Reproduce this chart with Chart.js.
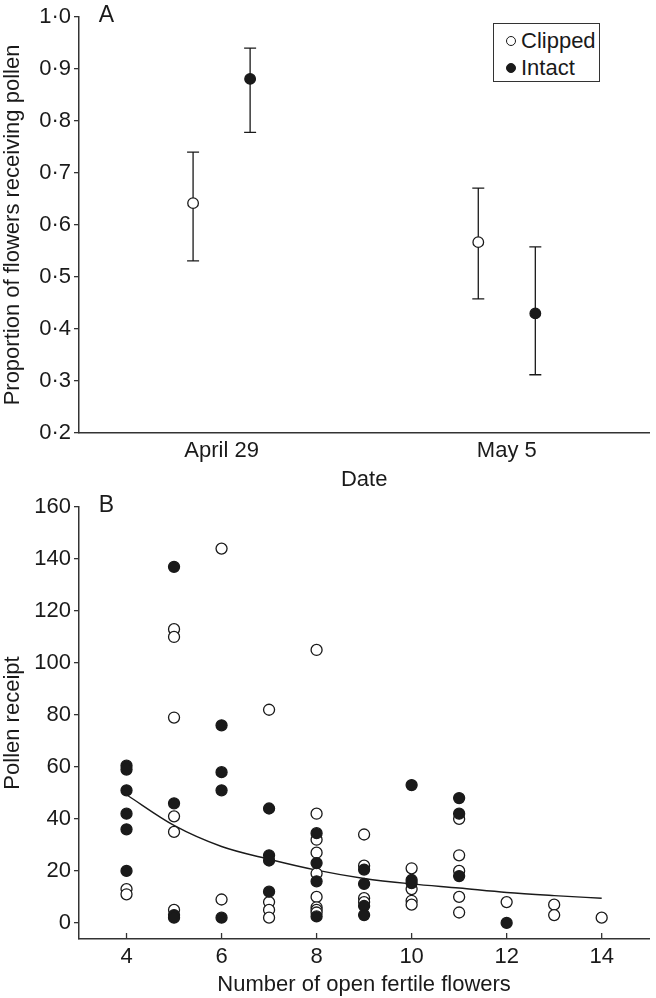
<!DOCTYPE html>
<html lang="en">
<head>
<meta charset="UTF-8">
<title>Pollen receipt in clipped and intact flowers</title>
<script src="https://cdn.jsdelivr.net/npm/chart.js"></script>
<style>
  body { margin: 0; background: #fff; font-family: "Liberation Sans", Arial, sans-serif; color: #1a1a1a; }
  #wrap { position: relative; width: 656px; height: 998px; }
  #chartA { position: absolute; left: 0; top: 0; }
  #chartB { position: absolute; left: 0; top: 470px; }
  #legend {
    position: absolute; left: 493px; top: 23px; width: 105px; height: 57px;
    border: 1.5px solid #333; background: #fff; font-size: 22px;
  }
  #legend .row { position: absolute; left: 0; height: 26px; line-height: 26px; white-space: nowrap; }
  #legend .dot {
    position: absolute; left: 12px; top: 8px; width: 8px; height: 8px;
    border: 1.3px solid #1a1a1a; border-radius: 50%;
  }
  #legend .lbl { position: absolute; left: 27px; top: 0; }
</style>
</head>
<body>
<div id="wrap">
  <canvas id="chartA" width="656" height="500"></canvas>
  <canvas id="chartB" width="656" height="528"></canvas>
  <div id="legend">
    <div class="row" style="top:4px"><span class="dot" style="background:#fff"></span><span class="lbl">Clipped</span></div>
    <div class="row" style="top:31px"><span class="dot" style="background:#1a1a1a"></span><span class="lbl">Intact</span></div>
  </div>
</div>

<script>
// panel A: proportion of flowers receiving pollen (mean with bars)
const dates = ['April 29', 'May 5'];
const clippedMean = [0.642, 0.567];
const clippedLow = [0.531, 0.458];
const clippedHigh = [0.740, 0.671];
const intactMean = [0.881, 0.430];
const intactLow = [0.778, 0.312];
const intactHigh = [0.940, 0.558];
const ticksA = [0.2, 0.3, 0.4, 0.5, 0.6, 0.7, 0.8, 0.9, 1.0];

// panel B: pollen receipt vs number of open fertile flowers
const clippedFlowers = [4, 4, 5, 5, 5, 5, 5, 5, 6, 6, 7, 7, 7, 7, 8, 8, 8, 8, 8, 8, 8, 8, 8,
  9, 9, 9, 9, 10, 10, 10, 10, 11, 11, 11, 11, 11, 12, 13, 13, 14];
const clippedPollen = [13, 11, 113, 110, 79, 41, 35, 5, 144, 9, 82, 8, 5, 2, 105, 42, 32, 27, 19, 10, 6, 5, 4,
  34, 22, 9.5, 8, 21, 13, 8.5, 7, 40, 26, 20, 10, 4, 8, 7, 3, 2];
const intactFlowers = [4, 4, 4, 4, 4, 4, 5, 5, 5, 5, 6, 6, 6, 6, 7, 7, 7, 7, 8, 8, 8, 8,
  9, 9, 9, 9, 10, 10, 10, 11, 11, 11, 12];
const intactPollen = [60.5, 59, 51, 42, 36, 20, 137, 46, 3, 2, 76, 58, 51, 2, 44, 26, 24, 12, 34.5, 23, 16, 2.5,
  20.5, 15, 6.5, 3, 53, 16.5, 15.3, 48, 42, 18, 0];
// fitted curve
const fitFlowers = [4, 5, 6, 7, 8, 9, 10, 11, 12, 13, 14];
const fitPollen = [49.3, 37.5, 29.4, 24.5, 20.3, 17.1, 15.0, 13.4, 11.7, 10.5, 9.5];
const ticksBx = [4, 6, 8, 10, 12, 14];
const ticksBy = [0, 20, 40, 60, 80, 100, 120, 140, 160];

const ink = '#1a1a1a';
const axisInk = '#333';
const font = { family: '"Liberation Sans", Arial, sans-serif', size: 22 };
const dodge = 0.1;  // side-by-side shift of the two treatments in panel A

// error bars for panel A
const errorBars = {
  id: 'errorBars',
  beforeDatasetsDraw(chart) {
    const { ctx, scales: { x, y } } = chart;
    const groups = [
      { low: clippedLow, high: clippedHigh, shift: -dodge },
      { low: intactLow, high: intactHigh, shift: dodge }
    ];
    ctx.save();
    ctx.strokeStyle = ink;
    ctx.lineWidth = 1.3;
    groups.forEach(g => {
      g.low.forEach((lo, i) => {
        const px = x.getPixelForValue(i + 0.5 + g.shift);
        const top = y.getPixelForValue(g.high[i]);
        const bot = y.getPixelForValue(lo);
        ctx.beginPath();
        ctx.moveTo(px, top); ctx.lineTo(px, bot);
        ctx.moveTo(px - 6, top); ctx.lineTo(px + 6, top);
        ctx.moveTo(px - 6, bot); ctx.lineTo(px + 6, bot);
        ctx.stroke();
      });
    });
    ctx.restore();
  }
};

// "A" / "B" panel letters
const panelLetter = {
  id: 'panelLetter',
  afterDraw(chart, args, opts) {
    const { ctx, chartArea } = chart;
    ctx.save();
    ctx.fillStyle = ink;
    ctx.font = '23px "Liberation Sans", Arial, sans-serif';
    ctx.textAlign = 'center';
    ctx.textBaseline = 'middle';
    ctx.fillText(opts.text, chartArea.left + 27.5, chartArea.top - 1);
    ctx.restore();
  }
};

// short tick marks pointing into the plot on the x axis of panel B
const innerTicks = {
  id: 'innerTicks',
  afterDraw(chart) {
    const { ctx, scales: { x }, chartArea } = chart;
    ctx.save();
    ctx.strokeStyle = axisInk;
    ctx.lineWidth = 1.3;
    x.ticks.forEach(t => {
      const px = x.getPixelForValue(t.value);
      ctx.beginPath();
      ctx.moveTo(px, chartArea.bottom);
      ctx.lineTo(px, chartArea.bottom - 6);
      ctx.stroke();
    });
    ctx.restore();
  }
};

function yAxis(min, max, tickList, title, fmt) {
  return {
    type: 'linear', min: min, max: max,
    afterBuildTicks: s => { s.ticks = tickList.map(v => ({ value: v })); },
    afterFit: s => { s.width = 79; },
    grid: { drawOnChartArea: false, drawTicks: true, tickLength: 5, color: axisInk, lineWidth: 1.3 },
    border: { display: true, color: axisInk, width: 1.5 },
    ticks: { color: ink, font: font, padding: 3, callback: fmt },
    title: { display: true, text: title, color: ink, font: font, padding: { top: 0, bottom: 0 } }
  };
}

new Chart(document.getElementById('chartA'), {
  type: 'scatter',
  data: {
    datasets: [
      {
        label: 'Intact',
        data: intactMean.map((v, i) => ({ x: i + 0.5 + dodge, y: v })),
        backgroundColor: ink, borderColor: ink, borderWidth: 1.3, pointRadius: 5.3
      },
      {
        label: 'Clipped',
        data: clippedMean.map((v, i) => ({ x: i + 0.5 - dodge, y: v })),
        backgroundColor: '#fff', borderColor: ink, borderWidth: 1.3, pointRadius: 5.3
      }
    ]
  },
  options: {
    responsive: false,
    animation: false,
    layout: { padding: { top: 17, right: 0, bottom: 0, left: 0 } },
    plugins: { legend: { display: false }, tooltip: { enabled: false }, panelLetter: { text: 'A' } },
    scales: {
      x: {
        type: 'linear', min: 0, max: 2,
        afterBuildTicks: s => { s.ticks = dates.map((d, i) => ({ value: i + 0.5 })); },
        afterFit: s => { s.height = 67; },
        grid: { display: false, drawTicks: false },
        border: { display: true, color: axisInk, width: 1.5 },
        ticks: { color: ink, font: font, padding: 5, callback: v => dates[Math.round(v - 0.5)] },
        title: { display: true, text: 'Date', color: ink, font: font, padding: { top: 0, bottom: 7 } }
      },
      y: yAxis(0.2, 1.0, ticksA, 'Proportion of flowers receiving pollen', v => v.toFixed(1).replace('.', '·'))
    }
  },
  plugins: [errorBars, panelLetter]
});

new Chart(document.getElementById('chartB'), {
  type: 'scatter',
  data: {
    datasets: [
      {
        label: 'Intact',
        data: intactFlowers.map((f, i) => ({ x: f, y: intactPollen[i] })),
        backgroundColor: ink, borderColor: ink, borderWidth: 1.3, pointRadius: 5.5
      },
      {
        label: 'Clipped',
        data: clippedFlowers.map((f, i) => ({ x: f, y: clippedPollen[i] })),
        backgroundColor: '#fff', borderColor: ink, borderWidth: 1.3, pointRadius: 5.5
      },
      {
        type: 'line',
        label: 'Fit',
        data: fitFlowers.map((f, i) => ({ x: f, y: fitPollen[i] })),
        borderColor: ink, borderWidth: 1.4, pointRadius: 0, fill: false,
        cubicInterpolationMode: 'monotone'
      }
    ]
  },
  options: {
    responsive: false,
    animation: false,
    layout: { padding: { top: 37, right: 0, bottom: 0, left: 0 } },
    plugins: { legend: { display: false }, tooltip: { enabled: false }, panelLetter: { text: 'B' } },
    scales: {
      x: {
        type: 'linear', min: 3, max: 15,
        afterBuildTicks: s => { s.ticks = ticksBx.map(v => ({ value: v })); },
        afterFit: s => { s.height = 59; },
        grid: { display: false, drawTicks: false },
        border: { display: true, color: axisInk, width: 1.5 },
        ticks: { color: ink, font: font, padding: 5 },
        title: { display: true, text: 'Number of open fertile flowers', color: ink, font: font, padding: { top: 0, bottom: 0 } }
      },
      y: yAxis(-6.2, 160, ticksBy, 'Pollen receipt', v => String(v))
    }
  },
  plugins: [innerTicks, panelLetter]
});
</script>
</body>
</html>
